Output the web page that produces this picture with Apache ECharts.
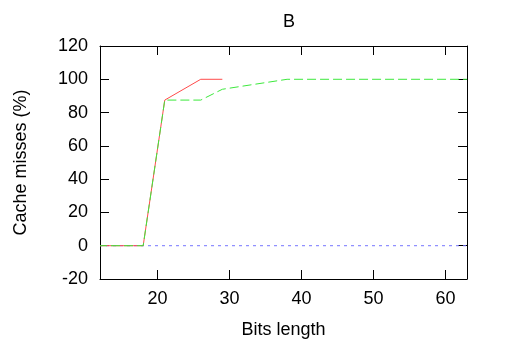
<!DOCTYPE html>
<html>
<head>
<meta charset="utf-8">
<script src="https://cdn.jsdelivr.net/npm/echarts@6/dist/echarts.min.js"></script>
<style>
  html, body { margin: 0; padding: 0; background: #fff; }
  #main { width: 516px; height: 352px; }
</style>
</head>
<body>
<div id="main"></div>
<script>
// values
var xTicks = [20, 30, 40, 50, 60]
var yTicks = [-20, 0, 20, 40, 60, 80, 100, 120]

var redLine = [[12, 0], [18, 0], [21, 87.5], [26, 100], [29, 100]]
var greenLine = [[12, 0], [18, 0], [21, 87.5], [26, 87.5], [29, 94], [38, 100], [63, 100]]
var blueLine = [[12, 0], [63, 0]]

var font = 'Liberation Sans'
var axisLine = { show: true, onZero: false, lineStyle: { color: '#000', width: 1 } }
var tick = { show: true, inside: true, length: 9, lineStyle: { color: '#000', width: 1 } }

var chart = echarts.init(document.getElementById('main'))

var option = {
    animation: false,
    title: {
        text: 'B',
        left: 284,
        top: 8,
        textAlign: 'center',
        textStyle: { fontFamily: font, fontSize: 18, fontWeight: 'normal', color: '#000' }
    },
    grid: { left: 100, right: 49, top: 46, bottom: 73 },
    xAxis: [
        {
            type: 'value',
            min: 12,
            max: 63,
            name: 'Bits length',
            nameLocation: 'middle',
            nameGap: 42,
            nameTextStyle: { fontFamily: font, fontSize: 18, color: '#000' },
            axisLine: axisLine,
            axisTick: Object.assign({}, tick, { customValues: xTicks }),
            axisLabel: { customValues: xTicks, margin: 11, fontFamily: font, fontSize: 18, color: '#000' },
            splitLine: { show: false }
        },
        {
            type: 'value',
            position: 'top',
            min: 12,
            max: 63,
            axisLine: axisLine,
            axisTick: Object.assign({}, tick, { customValues: xTicks }),
            axisLabel: { show: false },
            splitLine: { show: false }
        }
    ],
    yAxis: [
        {
            type: 'value',
            min: -20,
            max: 120,
            interval: 20,
            name: 'Cache misses (%)',
            nameLocation: 'middle',
            nameGap: 70,
            nameTextStyle: { fontFamily: font, fontSize: 18, color: '#000' },
            axisLine: axisLine,
            axisTick: tick,
            axisLabel: { margin: 12, fontFamily: font, fontSize: 18, color: '#000' },
            splitLine: { show: false }
        },
        {
            type: 'value',
            position: 'right',
            min: -20,
            max: 120,
            interval: 20,
            axisLine: axisLine,
            axisTick: tick,
            axisLabel: { show: false },
            splitLine: { show: false }
        }
    ],
    series: [
        {
            type: 'line',
            data: redLine,
            symbol: 'none',
            lineStyle: { color: '#ff4a4a', width: 1, type: 'solid' },
            z: 3
        },
        {
            type: 'line',
            data: greenLine,
            symbol: 'none',
            lineStyle: { color: '#3ce83c', width: 1, type: [9, 4], dashOffset: 2 },
            z: 4
        },
        {
            type: 'line',
            data: blueLine,
            symbol: 'none',
            lineStyle: { color: '#7474ff', width: 1, type: [3, 4], dashOffset: 1 },
            z: 2
        }
    ]
}
chart.setOption(option)
</script>
</body>
</html>
